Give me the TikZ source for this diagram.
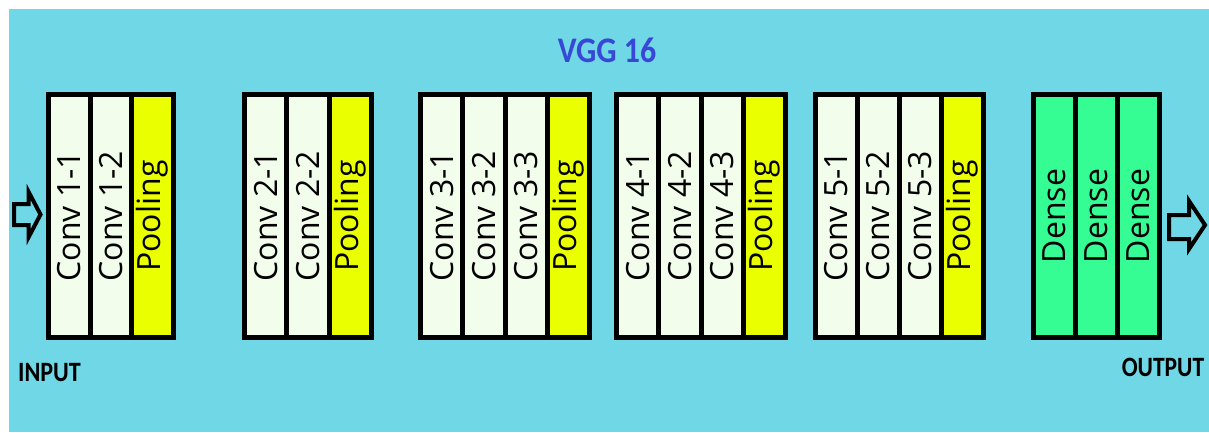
\documentclass[tikz,border=0pt]{standalone}
\usepackage{fontspec}
\setmainfont{Open Sans}
\newfontfamily\calib{Carlito}
\definecolor{bgcyan}{HTML}{70D7E6}
\definecolor{convfill}{HTML}{F3FDEC}
\definecolor{poolfill}{HTML}{EAFF00}
\definecolor{densefill}{HTML}{35FD93}
\definecolor{titleblue}{HTML}{3848D6}
\newcommand\vlabel[1]{\rotatebox{90}{\fontsize{32}{38}\selectfont #1}}
\tikzset{
  col/.style={draw=black, line width=5pt, rectangle, inner sep=0pt, outer sep=0pt,
    minimum height=243pt, anchor=west},
  cv/.style={col, fill=convfill, minimum width=#1},
  pl/.style={col, fill=poolfill, minimum width=#1},
  dn/.style={col, fill=densefill, minimum width=#1},
  blockarrow/.style={draw=black, line width=4pt, line join=miter, fill=bgcyan},
  caption/.style={font=\calib\bfseries\fontsize{28}{32}\selectfont, text=black, inner sep=0pt}
}
\begin{document}
\begin{tikzpicture}[x=1pt, y=-1pt]
  \useasboundingbox (0,0) rectangle (1209,432);
  \fill[white] (0,0) rectangle (1209,432);
  \fill[bgcyan] (9,9) rectangle (1209,432);

  \node[font=\calib\bfseries\fontsize{36}{40}\selectfont, text=titleblue, inner sep=0pt]
    (title) at (607,50.5) {\scalebox{0.885}[1]{VGG 16}};

  % block 1
  \node[cv=41.67pt] (c11) at (48.5,216) {\vlabel{Conv 1-1}};
  \node[cv=41.67pt] (c12) at (c11.east) {\vlabel{Conv 1-2}};
  \node[pl=41.67pt] (p1)  at (c12.east) {\vlabel{Pooling}};
  % block 2
  \node[cv=42.33pt] (c21) at (244.5,216) {\vlabel{Conv 2-1}};
  \node[cv=42.33pt] (c22) at (c21.east) {\vlabel{Conv 2-2}};
  \node[pl=42.33pt] (p2)  at (c22.east) {\vlabel{Pooling}};
  % block 3
  \node[cv=42.25pt] (c31) at (420.5,216) {\vlabel{Conv 3-1}};
  \node[cv=42.25pt] (c32) at (c31.east) {\vlabel{Conv 3-2}};
  \node[cv=42.25pt] (c33) at (c32.east) {\vlabel{Conv 3-3}};
  \node[pl=42.25pt] (p3)  at (c33.east) {\vlabel{Pooling}};
  % block 4
  \node[cv=42.25pt] (c41) at (616.5,216) {\vlabel{Conv 4-1}};
  \node[cv=42.25pt] (c42) at (c41.east) {\vlabel{Conv 4-2}};
  \node[cv=42.25pt] (c43) at (c42.east) {\vlabel{Conv 4-3}};
  \node[pl=42.25pt] (p4)  at (c43.east) {\vlabel{Pooling}};
  % block 5
  \node[cv=42pt] (c51) at (815.5,216) {\vlabel{Conv 5-1}};
  \node[cv=42pt] (c52) at (c51.east) {\vlabel{Conv 5-2}};
  \node[cv=42pt] (c53) at (c52.east) {\vlabel{Conv 5-3}};
  \node[pl=42pt] (p5)  at (c53.east) {\vlabel{Pooling}};
  % fully connected block
  \node[dn=42pt] (d1) at (1033.5,216) {\vlabel{Dense}};
  \node[dn=42pt] (d2) at (d1.east) {\vlabel{Dense}};
  \node[dn=42pt] (d3) at (d2.east) {\vlabel{Dense}};

  % hollow input / output arrows
  \draw[blockarrow] (14,204) -- (28.7,204) -- (28.7,192) -- (40.5,214.5)
    -- (28.7,237) -- (28.7,225) -- (14,225) -- cycle;
  \draw[blockarrow] (1169,215) -- (1189,215) -- (1189,201) -- (1205,225)
    -- (1189,249) -- (1189,239) -- (1169,239) -- cycle;

  \node[caption] (input)  at (49.5,372.5) {\scalebox{0.86}[1]{INPUT}};
  \node[caption] (output) at (1163,367)   {\scalebox{0.84}[1]{OUTPUT}};
\end{tikzpicture}
\end{document}
